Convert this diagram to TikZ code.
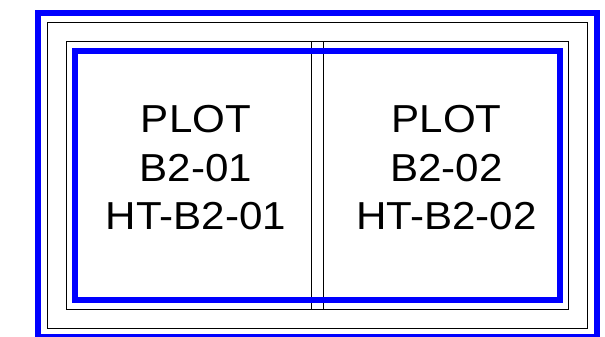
\documentclass[tikz,border=0pt]{standalone}
\usepackage{fontspec}
\setmainfont{Liberation Sans}
\begin{document}
\begin{tikzpicture}[x=1pt,y=-1pt,
  blueframe/.style={draw=blue,line width=6pt},
  thinframe/.style={draw=black,line width=1pt},
  plotlabel/.style={font=\fontsize{39}{48.5}\selectfont,align=center,inner sep=0pt,xscale=1.08}]
\useasboundingbox (0,0) rectangle (605,337);
\fill[white] (0,0) rectangle (605,337);
% outer blue frame
\draw[blueframe] (38,13) rectangle (596.7,337.3);
% outer black frame
\draw[thinframe] (47.5,22.3) rectangle (587.3,328.3);
% inner black frame
\draw[thinframe] (66.7,41.5) rectangle (568.3,309.3);
% divider lines
\coordinate (d1t) at (311.7,41.5);
\coordinate (d1b) at (311.7,309.3);
\coordinate (d2t) at (323.3,41.5);
\coordinate (d2b) at (323.3,309.3);
\draw[thinframe] (d1t) -- (d1b);
\draw[thinframe] (d2t) -- (d2b);
% inner blue frame
\draw[blueframe] (75.3,50.7) rectangle (559.5,299.7);
% labels
\node[plotlabel] (p1) at (196,168) {PLOT\\B2-01\\HT-B2-01};
\node[plotlabel] (p2) at (446.5,168) {PLOT\\B2-02\\HT-B2-02};
\end{tikzpicture}
\end{document}
